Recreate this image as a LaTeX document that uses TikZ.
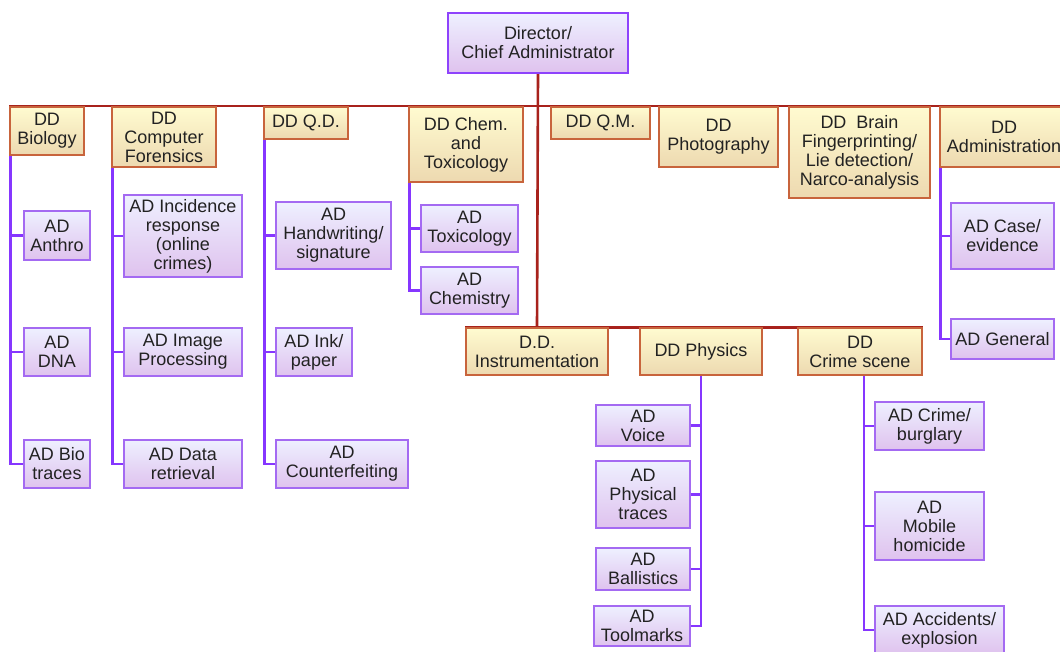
\documentclass[tikz,border=0pt]{standalone}
\usepackage{fontspec}
\setmainfont{Liberation Sans}
\usetikzlibrary{backgrounds}
\definecolor{foink}{HTML}{222222}
\definecolor{fored}{HTML}{A8221C}
\definecolor{foddline}{HTML}{C8643C}
\definecolor{foddtop}{HTML}{FFFBD0}
\definecolor{foddbot}{HTML}{EDD9B0}
\definecolor{foadline}{HTML}{A46AF2}
\definecolor{foadtop}{HTML}{EEF0FF}
\definecolor{foadbot}{HTML}{DFC2EE}
\definecolor{fopurple}{HTML}{8636FF}
\tikzset{
  fobox/.style={
    draw, line width=1.6pt, inner sep=0pt, align=center, text=foink,
    font=\fontsize{18}{19}\selectfont},
  fodd/.style={fobox, draw=foddline, top color=foddtop, bottom color=foddbot},
  foad/.style={fobox, draw=foadline, top color=foadtop, bottom color=foadbot},
  fohead/.style={foad, draw=fopurple!75!foadline},
  fobus/.style={draw=fored, line width=2.6pt},
  folink/.style={draw=fopurple, line width=2.8pt},
}

\begin{document}
\begin{tikzpicture}[x=1pt, y=-1pt]
\useasboundingbox (0,0) rectangle (1060,652);

% Director at the top.
\node[fohead, minimum width=180pt, minimum height=60pt] (director)
  at (538,43) {Director/\\Chief Administrator};

% Deputy directors, one row on the upper bus, three on the lower one.
\foreach \name/\x/\y/\w/\h/\txt in {%
    bio/47/131/74/48/{DD\\Biology},
    compfor/164/137/104/60/{DD\\Computer\\Forensics},
    qd/306/123/84/32/{DD Q.D.},
    chem/466/144.5/114/75/{DD Chem.\\and\\Toxicology},
    qm/600.5/123/99/32/{DD Q.M.},
    photo/718.5/137/119/60/{DD\\Photography},
    brain/859.5/152.5/141/91/{DD~ Brain\\Fingerprinting/\\Lie detection/\\Narco-analysis},
    admin/1004/137/128/60/{DD\\Administration},
    instr/537/351.5/142/47/{D.D.\\Instrumentation},
    physics/701/351.5/122/47/{DD Physics},
    crime/860/351.5/124/47/{DD\\Crime scene}} {
  \node[fodd, minimum width=\w pt, minimum height=\h pt] (\name)
    at (\x,\y) {\txt};
}

% Assistant directors under each deputy.
\foreach \name/\x/\y/\w/\h/\txt in {%
    anthro/57/235.5/66/49/{AD\\Anthro},
    dna/57/352/66/48/{AD\\DNA},
    biotr/57/464/66/48/{AD Bio\\traces},
    incid/183/236/118/82/{AD Incidence\\response\\(online\\crimes)},
    image/183/352/118/48/{AD Image\\Processing},
    dataret/183/464/118/48/{AD Data\\retrieval},
    handw/333.5/235.5/115/67/{AD\\Handwriting/\\signature},
    ink/314/352/76/48/{AD Ink/\\paper},
    counter/342/464/132/48/{AD\\Counterfeiting},
    toxi/469.5/228.5/97/47/{AD\\Toxicology},
    chemi/469.5/290.5/97/47/{AD\\Chemistry},
    casee/1002.5/236/103/66/{AD Case/\\evidence},
    general/1002.5/339/103/40/{AD General},
    voice/643/425.5/94/41/{AD\\Voice},
    phystr/643/494.5/94/67/{AD\\Physical\\traces},
    ballis/643/569/94/42/{AD\\Ballistics},
    toolm/642/626/96/40/{AD\\Toolmarks},
    crimeb/929.5/426/109/48/{AD Crime/\\burglary},
    mobile/929.5/526/109/68/{AD\\Mobile\\homicide},
    accid/939.5/630/129/48/{AD Accidents/\\explosion}} {
  \node[foad, minimum width=\w pt, minimum height=\h pt] (\name)
    at (\x,\y) {\txt};
}

% Connectors behind the boxes.
\begin{scope}[on background layer]
  \fill[white] (0,0) rectangle (1060,652);
  \draw[fobus] (bio.north west) -- (admin.north east);
  \draw[fobus] (director.south) -- (instr.north);
  \draw[fobus] (instr.north west) -- (crime.north east);
  \foreach \dd/\ad in {bio/anthro, bio/dna, bio/biotr,
      compfor/incid, compfor/image, compfor/dataret,
      qd/handw, qd/ink, qd/counter, chem/toxi, chem/chemi,
      admin/casee, admin/general}
    \draw[folink] ([xshift=1.5pt]\dd.south west) |- (\ad.west);
  \foreach \ad in {voice, phystr, ballis, toolm}
    \draw[folink] (physics.south) |- (\ad.east);
  \foreach \ad in {crimeb, mobile, accid}
    \draw[folink] ([xshift=4pt]crime.south) |- (\ad.west);
\end{scope}

\end{tikzpicture}
\end{document}
